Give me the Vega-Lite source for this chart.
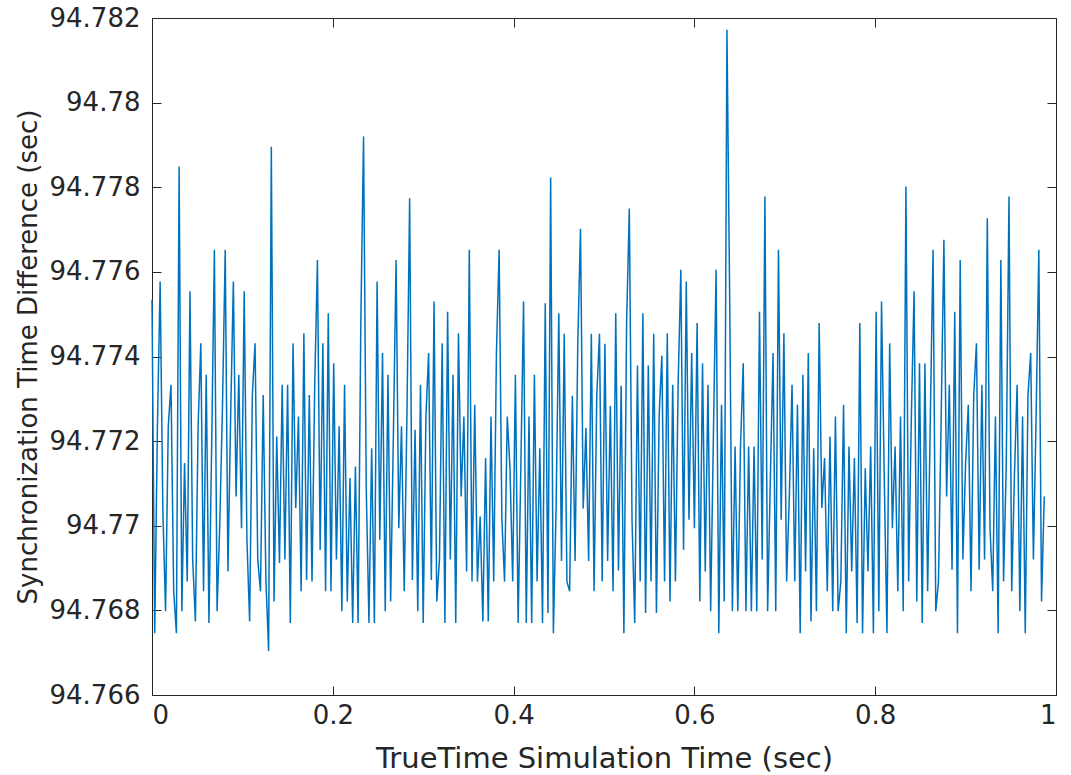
{
  "$schema": "https://vega.github.io/schema/vega-lite/v6.json",
  "width": 904,
  "height": 677,
  "autosize": "none",
  "padding": {"left": 152, "top": 18, "right": 15, "bottom": 80},
  "background": "white",
  "config": {
    "view": {"stroke": "#262626", "strokeWidth": 1},
    "axis": {
      "domain": false,
      "grid": false,
      "tickColor": "#262626",
      "tickSize": -9,
      "tickWidth": 1,
      "labelFont": "DejaVu Sans",
      "labelFontSize": 26,
      "labelColor": "#262626",
      "titleFont": "DejaVu Sans",
      "titleFontSize": 27,
      "titleFontWeight": "normal",
      "titleColor": "#262626"
    }
  },
  "data": {
    "values": [
      {"t": 0, "v": 94.77534}, {"t": 0.003, "v": 94.76746}, {"t": 0.006, "v": 94.77235}, {"t": 0.009, "v": 94.77577}, {"t": 0.012, "v": 94.77038},
      {"t": 0.015, "v": 94.76798}, {"t": 0.018, "v": 94.77235}, {"t": 0.021, "v": 94.77333}, {"t": 0.024, "v": 94.76845}, {"t": 0.027, "v": 94.76746},
      {"t": 0.03, "v": 94.77849}, {"t": 0.033, "v": 94.76798}, {"t": 0.036, "v": 94.77148}, {"t": 0.039, "v": 94.76868}, {"t": 0.042, "v": 94.77554},
      {"t": 0.045, "v": 94.7692}, {"t": 0.048, "v": 94.76774}, {"t": 0.051, "v": 94.77235}, {"t": 0.054, "v": 94.77431}, {"t": 0.057, "v": 94.76845},
      {"t": 0.06, "v": 94.77357}, {"t": 0.063, "v": 94.7677}, {"t": 0.066, "v": 94.77187}, {"t": 0.069, "v": 94.77652}, {"t": 0.072, "v": 94.76798},
      {"t": 0.075, "v": 94.77006}, {"t": 0.078, "v": 94.77286}, {"t": 0.081, "v": 94.77652}, {"t": 0.084, "v": 94.76892}, {"t": 0.087, "v": 94.77258},
      {"t": 0.09, "v": 94.77577}, {"t": 0.093, "v": 94.77069}, {"t": 0.096, "v": 94.77357}, {"t": 0.099, "v": 94.76994}, {"t": 0.102, "v": 94.77554},
      {"t": 0.105, "v": 94.76967}, {"t": 0.108, "v": 94.76774}, {"t": 0.111, "v": 94.77309}, {"t": 0.114, "v": 94.77431}, {"t": 0.117, "v": 94.7692},
      {"t": 0.12, "v": 94.76845}, {"t": 0.123, "v": 94.77309}, {"t": 0.126, "v": 94.76872}, {"t": 0.129, "v": 94.76704}, {"t": 0.132, "v": 94.77896},
      {"t": 0.135, "v": 94.76821}, {"t": 0.138, "v": 94.77211}, {"t": 0.141, "v": 94.76912}, {"t": 0.144, "v": 94.77333}, {"t": 0.147, "v": 94.7692},
      {"t": 0.15, "v": 94.77333}, {"t": 0.153, "v": 94.7677}, {"t": 0.156, "v": 94.77431}, {"t": 0.159, "v": 94.77042}, {"t": 0.162, "v": 94.77258},
      {"t": 0.165, "v": 94.76845}, {"t": 0.168, "v": 94.77455}, {"t": 0.171, "v": 94.76872}, {"t": 0.174, "v": 94.77309}, {"t": 0.177, "v": 94.76868},
      {"t": 0.18, "v": 94.77333}, {"t": 0.183, "v": 94.77628}, {"t": 0.186, "v": 94.76943}, {"t": 0.189, "v": 94.77431}, {"t": 0.192, "v": 94.76845},
      {"t": 0.195, "v": 94.77502}, {"t": 0.198, "v": 94.76845}, {"t": 0.201, "v": 94.77384}, {"t": 0.204, "v": 94.7692}, {"t": 0.207, "v": 94.77235},
      {"t": 0.21, "v": 94.76798}, {"t": 0.213, "v": 94.77333}, {"t": 0.216, "v": 94.76821}, {"t": 0.219, "v": 94.77113}, {"t": 0.222, "v": 94.7677},
      {"t": 0.225, "v": 94.7714}, {"t": 0.228, "v": 94.7677}, {"t": 0.231, "v": 94.77479}, {"t": 0.234, "v": 94.7792}, {"t": 0.237, "v": 94.77089},
      {"t": 0.24, "v": 94.7677}, {"t": 0.243, "v": 94.77183}, {"t": 0.246, "v": 94.7677}, {"t": 0.249, "v": 94.77577}, {"t": 0.252, "v": 94.76967},
      {"t": 0.255, "v": 94.77408}, {"t": 0.258, "v": 94.76798}, {"t": 0.261, "v": 94.77357}, {"t": 0.264, "v": 94.76821}, {"t": 0.267, "v": 94.77211},
      {"t": 0.27, "v": 94.77628}, {"t": 0.273, "v": 94.76994}, {"t": 0.276, "v": 94.77235}, {"t": 0.279, "v": 94.76845}, {"t": 0.282, "v": 94.77258},
      {"t": 0.285, "v": 94.77774}, {"t": 0.288, "v": 94.76872}, {"t": 0.291, "v": 94.77227}, {"t": 0.294, "v": 94.76798}, {"t": 0.297, "v": 94.77333},
      {"t": 0.3, "v": 94.7677}, {"t": 0.303, "v": 94.77258}, {"t": 0.306, "v": 94.77408}, {"t": 0.309, "v": 94.76872}, {"t": 0.312, "v": 94.7753},
      {"t": 0.315, "v": 94.76821}, {"t": 0.318, "v": 94.7692}, {"t": 0.321, "v": 94.77431}, {"t": 0.324, "v": 94.7677}, {"t": 0.327, "v": 94.77506},
      {"t": 0.33, "v": 94.7692}, {"t": 0.333, "v": 94.77357}, {"t": 0.336, "v": 94.7677}, {"t": 0.339, "v": 94.77455}, {"t": 0.342, "v": 94.77069},
      {"t": 0.345, "v": 94.77258}, {"t": 0.348, "v": 94.76892}, {"t": 0.351, "v": 94.77652}, {"t": 0.354, "v": 94.76868}, {"t": 0.357, "v": 94.77286},
      {"t": 0.36, "v": 94.76868}, {"t": 0.363, "v": 94.77022}, {"t": 0.366, "v": 94.76774}, {"t": 0.369, "v": 94.7716}, {"t": 0.372, "v": 94.76774},
      {"t": 0.375, "v": 94.77258}, {"t": 0.378, "v": 94.76868}, {"t": 0.381, "v": 94.77408}, {"t": 0.384, "v": 94.77652}, {"t": 0.387, "v": 94.77018},
      {"t": 0.39, "v": 94.76868}, {"t": 0.393, "v": 94.77258}, {"t": 0.396, "v": 94.77136}, {"t": 0.399, "v": 94.76868}, {"t": 0.402, "v": 94.77357},
      {"t": 0.405, "v": 94.7677}, {"t": 0.408, "v": 94.77136}, {"t": 0.411, "v": 94.7753}, {"t": 0.414, "v": 94.7677}, {"t": 0.417, "v": 94.77258},
      {"t": 0.42, "v": 94.7677}, {"t": 0.423, "v": 94.77357}, {"t": 0.426, "v": 94.76868}, {"t": 0.429, "v": 94.77183}, {"t": 0.432, "v": 94.7677},
      {"t": 0.435, "v": 94.77526}, {"t": 0.438, "v": 94.76794}, {"t": 0.441, "v": 94.77823}, {"t": 0.444, "v": 94.76746}, {"t": 0.447, "v": 94.77041},
      {"t": 0.45, "v": 94.77502}, {"t": 0.453, "v": 94.76917}, {"t": 0.456, "v": 94.77454}, {"t": 0.459, "v": 94.76868}, {"t": 0.462, "v": 94.76845},
      {"t": 0.465, "v": 94.77307}, {"t": 0.468, "v": 94.76917}, {"t": 0.471, "v": 94.7743}, {"t": 0.474, "v": 94.77702}, {"t": 0.477, "v": 94.77041},
      {"t": 0.48, "v": 94.77231}, {"t": 0.483, "v": 94.76917}, {"t": 0.486, "v": 94.77454}, {"t": 0.489, "v": 94.76845}, {"t": 0.492, "v": 94.77307},
      {"t": 0.495, "v": 94.77454}, {"t": 0.498, "v": 94.76868}, {"t": 0.501, "v": 94.7743}, {"t": 0.504, "v": 94.76917}, {"t": 0.507, "v": 94.77283},
      {"t": 0.51, "v": 94.76845}, {"t": 0.513, "v": 94.77502}, {"t": 0.516, "v": 94.76894}, {"t": 0.519, "v": 94.77331}, {"t": 0.522, "v": 94.76746},
      {"t": 0.525, "v": 94.77479}, {"t": 0.528, "v": 94.7775}, {"t": 0.531, "v": 94.77013}, {"t": 0.534, "v": 94.7677}, {"t": 0.537, "v": 94.77379},
      {"t": 0.54, "v": 94.76868}, {"t": 0.543, "v": 94.77502}, {"t": 0.546, "v": 94.76794}, {"t": 0.549, "v": 94.77379}, {"t": 0.552, "v": 94.76868},
      {"t": 0.555, "v": 94.77454}, {"t": 0.558, "v": 94.76794}, {"t": 0.561, "v": 94.7726}, {"t": 0.564, "v": 94.77402}, {"t": 0.567, "v": 94.76868},
      {"t": 0.57, "v": 94.77455}, {"t": 0.573, "v": 94.76821}, {"t": 0.576, "v": 94.77333}, {"t": 0.579, "v": 94.76868}, {"t": 0.582, "v": 94.77333},
      {"t": 0.585, "v": 94.77605}, {"t": 0.588, "v": 94.76943}, {"t": 0.591, "v": 94.77577}, {"t": 0.594, "v": 94.77014}, {"t": 0.597, "v": 94.77408},
      {"t": 0.6, "v": 94.76994}, {"t": 0.603, "v": 94.77479}, {"t": 0.606, "v": 94.76821}, {"t": 0.609, "v": 94.77384}, {"t": 0.612, "v": 94.76892},
      {"t": 0.615, "v": 94.77333}, {"t": 0.618, "v": 94.76798}, {"t": 0.621, "v": 94.77211}, {"t": 0.624, "v": 94.77605}, {"t": 0.627, "v": 94.76746},
      {"t": 0.63, "v": 94.77286}, {"t": 0.633, "v": 94.76821}, {"t": 0.636, "v": 94.78172}, {"t": 0.639, "v": 94.77542}, {"t": 0.642, "v": 94.76798},
      {"t": 0.645, "v": 94.77187}, {"t": 0.648, "v": 94.76798}, {"t": 0.651, "v": 94.77187}, {"t": 0.654, "v": 94.77384}, {"t": 0.657, "v": 94.76798},
      {"t": 0.66, "v": 94.77187}, {"t": 0.663, "v": 94.76798}, {"t": 0.666, "v": 94.77187}, {"t": 0.669, "v": 94.76798}, {"t": 0.672, "v": 94.77506},
      {"t": 0.675, "v": 94.7692}, {"t": 0.678, "v": 94.77778}, {"t": 0.681, "v": 94.76798}, {"t": 0.684, "v": 94.77109}, {"t": 0.687, "v": 94.77408},
      {"t": 0.69, "v": 94.76798}, {"t": 0.693, "v": 94.77652}, {"t": 0.696, "v": 94.77014}, {"t": 0.699, "v": 94.77455}, {"t": 0.702, "v": 94.76868},
      {"t": 0.705, "v": 94.77069}, {"t": 0.708, "v": 94.77333}, {"t": 0.711, "v": 94.76868}, {"t": 0.714, "v": 94.77286}, {"t": 0.717, "v": 94.76746},
      {"t": 0.72, "v": 94.77357}, {"t": 0.723, "v": 94.76892}, {"t": 0.726, "v": 94.77408}, {"t": 0.729, "v": 94.76774}, {"t": 0.732, "v": 94.77183},
      {"t": 0.735, "v": 94.76798}, {"t": 0.738, "v": 94.77479}, {"t": 0.741, "v": 94.77042}, {"t": 0.744, "v": 94.7716}, {"t": 0.747, "v": 94.76845},
      {"t": 0.75, "v": 94.77211}, {"t": 0.753, "v": 94.76798}, {"t": 0.756, "v": 94.77258}, {"t": 0.759, "v": 94.76798}, {"t": 0.762, "v": 94.76868},
      {"t": 0.765, "v": 94.77286}, {"t": 0.768, "v": 94.76746}, {"t": 0.771, "v": 94.77187}, {"t": 0.774, "v": 94.76892}, {"t": 0.777, "v": 94.7716},
      {"t": 0.78, "v": 94.7677}, {"t": 0.783, "v": 94.77479}, {"t": 0.786, "v": 94.76746}, {"t": 0.789, "v": 94.77136}, {"t": 0.792, "v": 94.76892},
      {"t": 0.795, "v": 94.77187}, {"t": 0.798, "v": 94.76746}, {"t": 0.801, "v": 94.77506}, {"t": 0.804, "v": 94.76798}, {"t": 0.807, "v": 94.7753},
      {"t": 0.81, "v": 94.77117}, {"t": 0.813, "v": 94.76746}, {"t": 0.816, "v": 94.77431}, {"t": 0.819, "v": 94.76994}, {"t": 0.822, "v": 94.77187},
      {"t": 0.825, "v": 94.76845}, {"t": 0.828, "v": 94.77258}, {"t": 0.831, "v": 94.76798}, {"t": 0.834, "v": 94.77802}, {"t": 0.837, "v": 94.76868},
      {"t": 0.84, "v": 94.77258}, {"t": 0.843, "v": 94.77554}, {"t": 0.846, "v": 94.76821}, {"t": 0.849, "v": 94.77384}, {"t": 0.852, "v": 94.7677},
      {"t": 0.855, "v": 94.77384}, {"t": 0.858, "v": 94.76845}, {"t": 0.861, "v": 94.77258}, {"t": 0.864, "v": 94.77652}, {"t": 0.867, "v": 94.76798},
      {"t": 0.87, "v": 94.76868}, {"t": 0.873, "v": 94.77258}, {"t": 0.876, "v": 94.77676}, {"t": 0.879, "v": 94.77069}, {"t": 0.882, "v": 94.77333},
      {"t": 0.885, "v": 94.76896}, {"t": 0.888, "v": 94.77506}, {"t": 0.891, "v": 94.76746}, {"t": 0.894, "v": 94.77628}, {"t": 0.897, "v": 94.7692},
      {"t": 0.9, "v": 94.77148}, {"t": 0.903, "v": 94.77286}, {"t": 0.906, "v": 94.76845}, {"t": 0.909, "v": 94.77309}, {"t": 0.912, "v": 94.77431},
      {"t": 0.915, "v": 94.76896}, {"t": 0.918, "v": 94.77333}, {"t": 0.921, "v": 94.7692}, {"t": 0.924, "v": 94.77727}, {"t": 0.927, "v": 94.76994},
      {"t": 0.93, "v": 94.76845}, {"t": 0.933, "v": 94.77258}, {"t": 0.936, "v": 94.76746}, {"t": 0.939, "v": 94.77628}, {"t": 0.942, "v": 94.76868},
      {"t": 0.945, "v": 94.77148}, {"t": 0.948, "v": 94.77778}, {"t": 0.951, "v": 94.76845}, {"t": 0.954, "v": 94.77117}, {"t": 0.957, "v": 94.77333},
      {"t": 0.96, "v": 94.76798}, {"t": 0.963, "v": 94.77258}, {"t": 0.966, "v": 94.76746}, {"t": 0.969, "v": 94.77309}, {"t": 0.972, "v": 94.77408},
      {"t": 0.975, "v": 94.7692}, {"t": 0.978, "v": 94.77258}, {"t": 0.981, "v": 94.77652}, {"t": 0.984, "v": 94.76821}, {"t": 0.987, "v": 94.77069}
    ]
  },
  "layer": [
    {
      "mark": {"type": "line", "color": "#0072BD", "strokeWidth": 1.5},
      "encoding": {
        "x": {
          "field": "t", "type": "quantitative",
          "scale": {"domain": [0, 1], "nice": false},
          "axis": {"orient": "bottom", "values": [0, 0.2, 0.4, 0.6, 0.8, 1], "format": "~g", "labelPadding": 16, "titlePadding": 16, "titleFontSize": 29, "title": "TrueTime Simulation Time (sec)"}
        },
        "y": {
          "field": "v", "type": "quantitative",
          "scale": {"domain": [94.766, 94.782], "nice": false, "zero": false},
          "axis": {"orient": "left", "values": [94.766, 94.768, 94.77, 94.772, 94.774, 94.776, 94.778, 94.78, 94.782], "format": ".3~f", "labelPadding": 21, "titlePadding": 8, "titleFontSize": 26, "title": "Synchronization Time Difference (sec)"}
        }
      }
    },
    {
      "mark": {"type": "line", "opacity": 0},
      "encoding": {
        "x": {
          "field": "t", "type": "quantitative",
          "axis": {"orient": "top", "values": [0, 0.2, 0.4, 0.6, 0.8, 1], "labels": false, "title": null}
        },
        "y": {
          "field": "v", "type": "quantitative",
          "axis": {"orient": "right", "values": [94.766, 94.768, 94.77, 94.772, 94.774, 94.776, 94.778, 94.78, 94.782], "labels": false, "title": null}
        }
      }
    }
  ],
  "resolve": {"axis": {"x": "independent", "y": "independent"}}
}
